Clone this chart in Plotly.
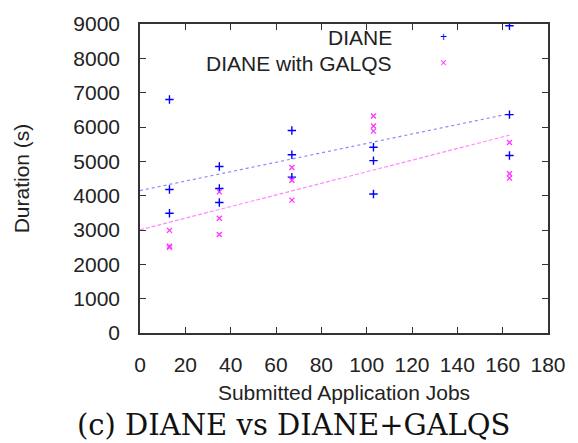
import numpy as np
import plotly.graph_objects as go

# Data
diane_x = [13, 13, 13, 35, 35, 35, 67, 67, 67, 103, 103, 103, 163, 163, 163]
diane_y = [6800, 4180, 3490, 4850, 4210, 3800, 5900, 5190, 4540, 5410, 5020, 4050, 8950, 6360, 5170]
galqs_x = [13, 13, 13, 35, 35, 35, 67, 67, 67, 103, 103, 103, 163, 163, 163]
galqs_y = [2990, 2530, 2500, 4110, 3340, 2870, 4820, 4450, 3870, 6320, 6030, 5880, 5550, 4640, 4510]
x_ticks = list(range(0, 181, 20))
y_ticks = list(range(0, 9001, 1000))

fit_x = np.array([0, max(diane_x)])
d_coef = np.polyfit(diane_x, diane_y, 1)
g_coef = np.polyfit(galqs_x, galqs_y, 1)

FONT = "Liberation Sans, Arial, sans-serif"
fig = go.Figure()
fig.add_trace(go.Scatter(x=fit_x, y=np.polyval(d_coef, fit_x), mode="lines",
                         line=dict(color="#8a8aff", width=1.2, dash="dot"), showlegend=False))
fig.add_trace(go.Scatter(x=fit_x, y=np.polyval(g_coef, fit_x), mode="lines",
                         line=dict(color="#ff8aff", width=1.2, dash="4px,2px"), showlegend=False))
fig.add_trace(go.Scatter(x=diane_x, y=diane_y, mode="markers", name="DIANE",
                         marker=dict(symbol="cross-thin", size=6, line=dict(color="#0000ff", width=1.4)),
                         showlegend=False))
fig.add_trace(go.Scatter(x=galqs_x, y=galqs_y, mode="markers", name="DIANE with GALQS",
                         marker=dict(symbol="x-thin", size=5, line=dict(color="#ff33ff", width=1.3)),
                         showlegend=False))

axis_common = dict(showline=True, linecolor="#333333", linewidth=1.5, mirror="ticks",
                   ticks="inside", ticklen=6, tickcolor="#333333", tickwidth=1.2,
                   showgrid=False, zeroline=False,
                   tickfont=dict(family=FONT, size=21, color="#222222"))
fig.update_xaxes(range=[0, 180], tickvals=x_ticks, ticklabelstandoff=12,
                 title=dict(text="Submitted Application Jobs", font=dict(family=FONT, size=21, color="#222222"),
                            standoff=10),
                 **axis_common)
fig.update_yaxes(range=[0, 9000], tickvals=y_ticks, ticklabelstandoff=14,
                 title=dict(text="Duration (s)", font=dict(family=FONT, size=21, color="#222222"),
                            standoff=38),
                 **axis_common)

# gnuplot-style key: right-aligned text with sample markers to the right
legend_items = [("DIANE", "+", "#0000ff", 0.957), ("DIANE with GALQS", "×", "#ff33ff", 0.873)]
for label, glyph, color, yy in legend_items:
    fig.add_annotation(xref="paper", yref="paper", x=0.623, y=yy, text=label, showarrow=False,
                       xanchor="right", yanchor="middle", font=dict(family=FONT, size=21, color="#222222"))
    fig.add_annotation(xref="paper", yref="paper", x=0.745, y=yy, text=glyph, showarrow=False,
                       xanchor="center", yanchor="middle", font=dict(family=FONT, size=12, color=color))

fig.add_annotation(xref="paper", yref="paper", x=0.377, y=-0.298, text="(c) DIANE vs DIANE+GALQS",
                   showarrow=False, xanchor="center", yanchor="middle",
                   font=dict(family="DejaVu Serif, serif", size=29, color="#111111"))

fig.update_layout(width=578, height=443, margin=dict(l=140, r=24, t=20, b=110),
                  plot_bgcolor="white", paper_bgcolor="white")
fig.write_html("out.html")
